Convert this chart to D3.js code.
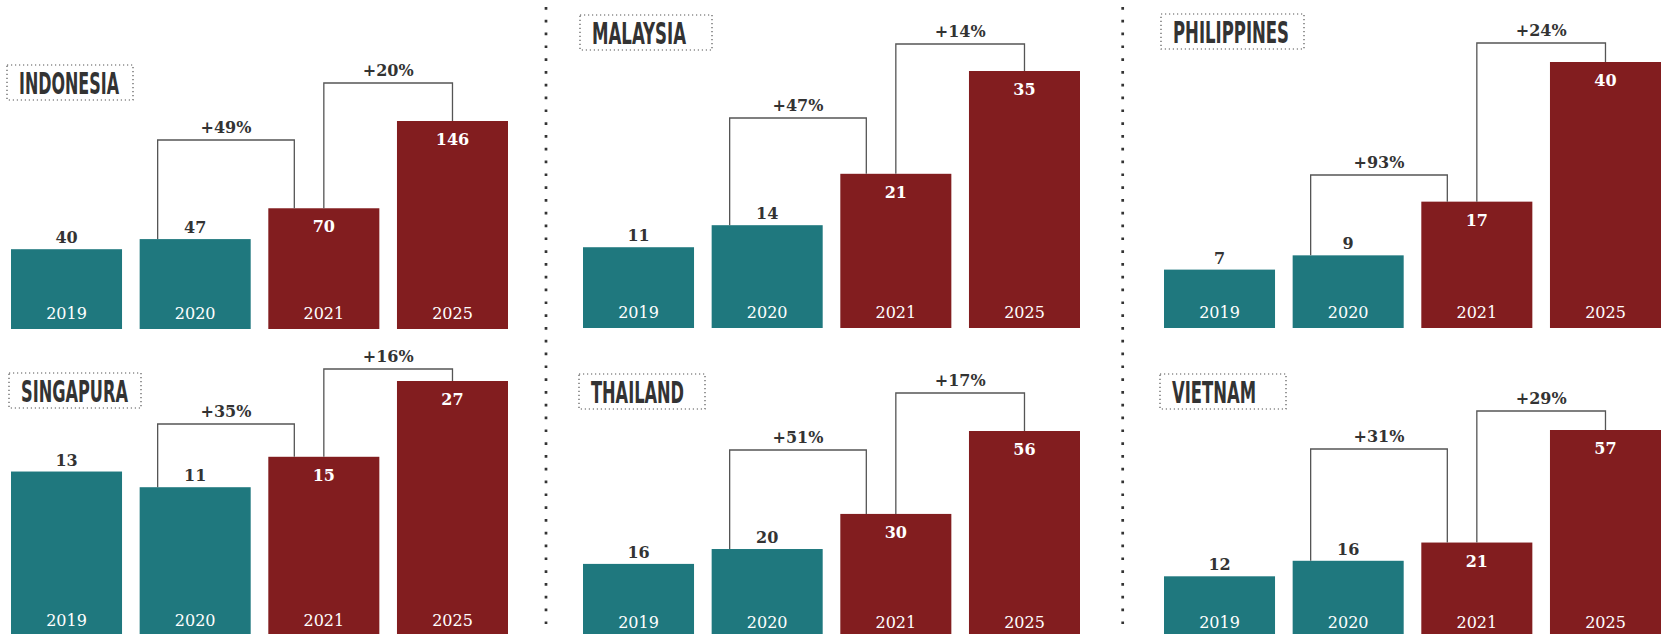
<!DOCTYPE html>
<html>
<head>
<meta charset="utf-8">
<script src="https://cdn.jsdelivr.net/npm/d3@7"></script>
<style>
  html, body { margin: 0; padding: 0; background: #fff; }
  svg { display: block; }
</style>
</head>
<body>
<div id="chart"></div>
<script>
// size of the page
const width = 1678; const height = 634;

// data
const countries = ["INDONESIA", "MALAYSIA", "PHILIPPINES", "SINGAPURA", "THAILAND", "VIETNAM"];
const years = ["2019", "2020", "2021", "2025"];
const indonesia = [40, 47, 70, 146];
const malaysia = [11, 14, 21, 35];
const philippines = [7, 9, 17, 40];
const singapura = [13, 11, 15, 27];
const thailand = [16, 20, 30, 56];
const vietnam = [12, 16, 21, 57];
const growth_2020_2021 = [49, 47, 93, 35, 51, 31];
const growth_2021_2025 = [20, 14, 24, 16, 17, 29];

const values = [indonesia, malaysia, philippines, singapura, thailand, vietnam];

// panel layout (positions on the page, not data)
const layout = [
    {x0: 11,   base: 329, top: 121, exp: 0.74, b1: 140, b2: 83,  box: {x: 7,    y: 65,  w: 126}, tw: 100},
    {x0: 583,  base: 328, top: 71,  exp: 1,    b1: 118, b2: 44,  box: {x: 580,  y: 15,  w: 132}, tw: 94},
    {x0: 1164, base: 328, top: 62,  exp: 0.87, b1: 175, b2: 43,  box: {x: 1161, y: 14,  w: 143}, tw: 116},
    {x0: 11,   base: 636, top: 381, exp: 0.6,  b1: 424, b2: 369, box: {x: 9,    y: 373, w: 132}, tw: 107},
    {x0: 583,  base: 638, top: 431, exp: 0.82, b1: 450, b2: 393, box: {x: 579,  y: 374, w: 126}, tw: 93},
    {x0: 1164, base: 638, top: 430, exp: 0.78, b1: 449, b2: 411, box: {x: 1160, y: 374, w: 126}, tw: 84}
];
const panelWidth = 497;
const separators = [546, 1122.7];

const bar_color = d3.scaleOrdinal()
    .domain(years)
    .range(['#1f787e', '#1f787e', '#821d1f', '#821d1f']);

const serif = "'DejaVu Serif', 'Liberation Serif', serif";
const condensed = "'Liberation Sans Narrow', 'DejaVu Sans Condensed', 'Roboto', sans-serif";

let svg = d3.select('#chart')
    .append('svg')
        .attr('width', width)
        .attr('height', height);

// dotted column separators
svg.selectAll('line.sep')
    .data(separators)
    .join('line')
        .attr('class', 'sep')
        .attr('x1', d => d).attr('x2', d => d)
        .attr('y1', 7).attr('y2', height)
        .attr('stroke', '#333')
        .attr('stroke-width', 2.7)
        .attr('stroke-dasharray', '2.7,10.1');

countries.forEach(function(name, i){
    const L = layout[i];
    const vals = values[i];
    const rows = years.map((y, j) => ({year: y, value: vals[j]}));

    const x_scale = d3.scaleBand()
        .domain(years)
        .range([L.x0, L.x0 + panelWidth])
        .paddingInner(0.137)
        .paddingOuter(0);
    const y_scale = d3.scalePow()
        .exponent(L.exp)
        .domain([0, d3.max(vals)])
        .range([L.base, L.top]);

    let g = svg.append('g');

    // bars
    g.selectAll('rect')
        .data(rows)
        .join('rect')
            .attr('x', d => x_scale(d.year))
            .attr('y', d => y_scale(d.value))
            .attr('width', x_scale.bandwidth())
            .attr('height', d => L.base - y_scale(d.value))
            .attr('fill', d => bar_color(d.year));

    // year labels inside the bars
    g.selectAll('text.year')
        .data(rows)
        .join('text')
            .attr('class', 'year')
            .attr('x', d => x_scale(d.year) + x_scale.bandwidth() / 2)
            .attr('y', L.base - 10)
            .attr('text-anchor', 'middle')
            .attr('font-family', serif)
            .attr('font-size', 16)
            .attr('fill', '#fff')
            .text(d => d.year);

    // value labels: above teal bars, inside red bars
    g.selectAll('text.val')
        .data(rows)
        .join('text')
            .attr('class', 'val')
            .attr('x', d => x_scale(d.year) + x_scale.bandwidth() / 2)
            .attr('y', function(d){
                return d.year < "2021" ? y_scale(d.value) - 6 : y_scale(d.value) + 24;
            })
            .attr('text-anchor', 'middle')
            .attr('font-family', serif)
            .attr('font-weight', 'bold')
            .attr('font-size', 16)
            .attr('fill', d => d.year < "2021" ? '#333' : '#fff')
            .text(d => d.value);

    // growth brackets
    const bw = x_scale.bandwidth();
    const brackets = [
        {lx: x_scale("2020") + 18, rx: x_scale("2021") + 26,
         lt: y_scale(vals[1]), rt: y_scale(vals[2]), level: L.b1, label: "+" + growth_2020_2021[i] + "%"},
        {lx: x_scale("2021") + bw / 2, rx: x_scale("2025") + bw / 2,
         lt: y_scale(vals[2]), rt: y_scale(vals[3]), level: L.b2, label: "+" + growth_2021_2025[i] + "%"}
    ];
    g.selectAll('path.br')
        .data(brackets)
        .join('path')
            .attr('class', 'br')
            .attr('d', d => `M${d.lx},${d.lt}V${d.level}H${d.rx}V${d.rt}`)
            .attr('fill', 'none')
            .attr('stroke', '#555')
            .attr('stroke-width', 1.3);
    g.selectAll('text.pct')
        .data(brackets)
        .join('text')
            .attr('class', 'pct')
            .attr('x', d => (d.lx + d.rx) / 2)
            .attr('y', d => d.level - 7)
            .attr('text-anchor', 'middle')
            .attr('font-family', serif)
            .attr('font-weight', 'bold')
            .attr('font-size', 16)
            .attr('fill', '#333')
            .text(d => d.label);

    // country name in a dotted box
    g.append('rect')
        .attr('x', L.box.x)
        .attr('y', L.box.y)
        .attr('width', L.box.w)
        .attr('height', 35)
        .attr('fill', 'none')
        .attr('stroke', '#555')
        .attr('stroke-width', 1.2)
        .attr('stroke-dasharray', '1.2,2.8');
    g.append('text')
        .attr('x', L.box.x + 12)
        .attr('y', L.box.y + 29)
        .attr('font-family', condensed)
        .attr('font-weight', 'bold')
        .attr('font-size', 31)
        .attr('fill', '#333')
        .attr('textLength', L.tw)
        .attr('lengthAdjust', 'spacingAndGlyphs')
        .text(name);
});
</script>
</body>
</html>
